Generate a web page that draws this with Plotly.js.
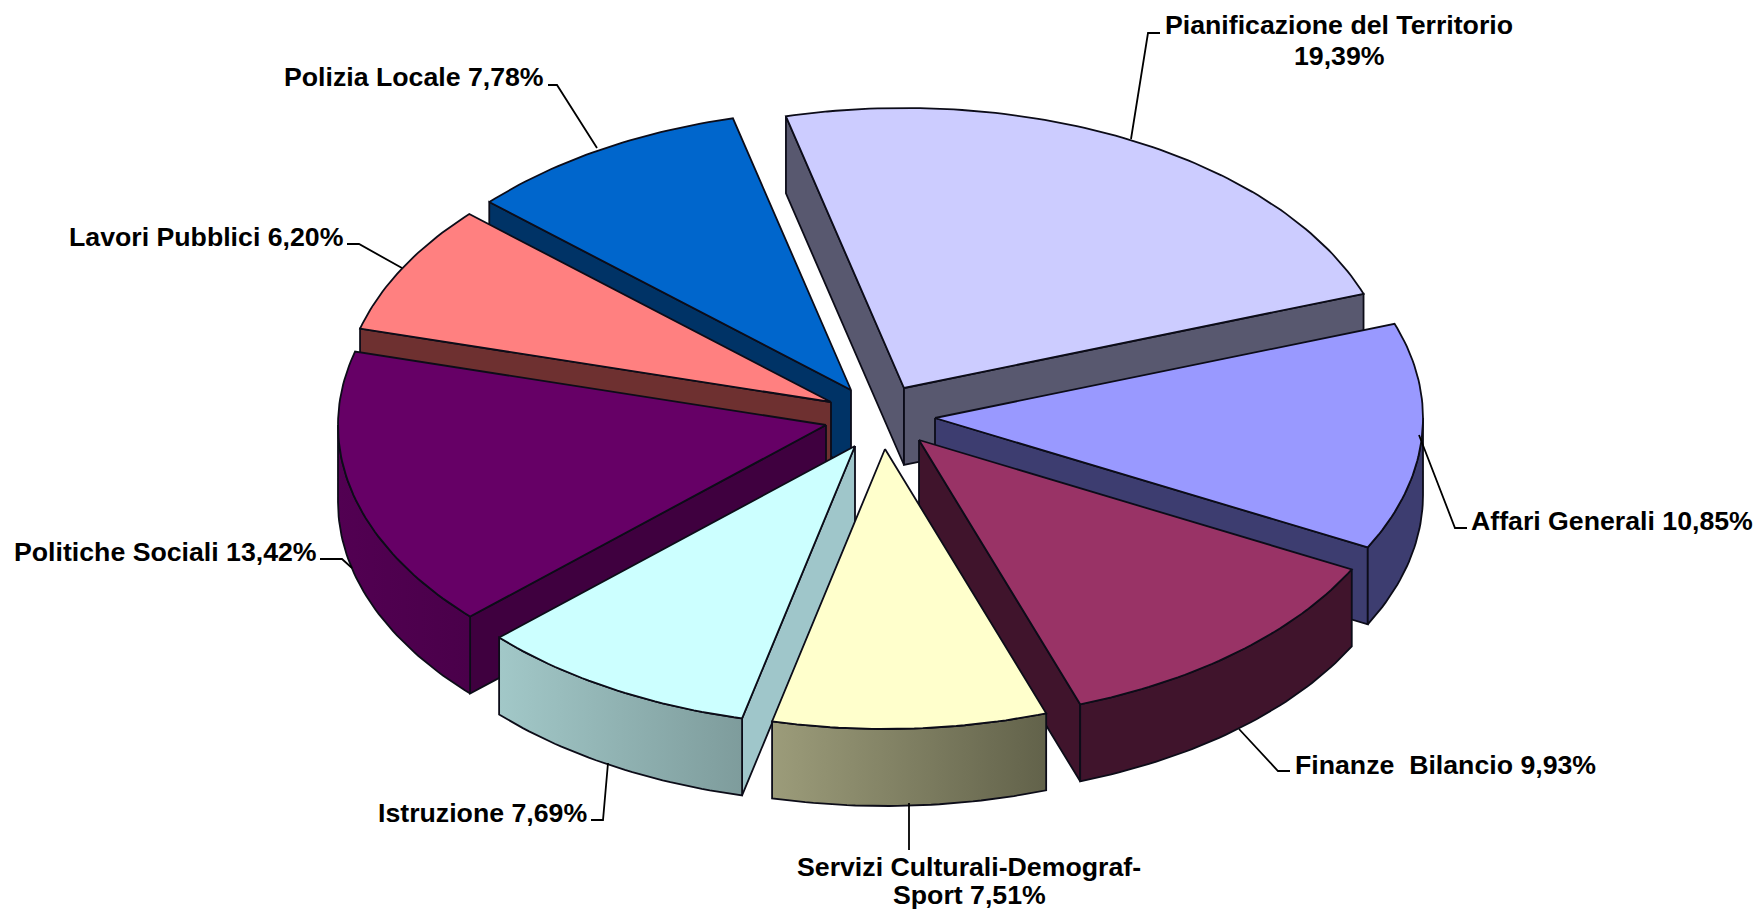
<!DOCTYPE html>
<html>
<head>
<meta charset="utf-8">
<script src="https://cdn.plot.ly/plotly-3.0.1.min.js"></script>
<style>html,body{margin:0;padding:0;background:#fff}#chart{width:1758px;height:911px}</style>
</head>
<body>
<div id="chart"></div>
<script>
// ---- data ----
const categories = ["Pianificazione del Territorio","Affari Generali","Finanze  Bilancio","Servizi Culturali-Demograf-Sport","Istruzione","Politiche Sociali","Lavori Pubblici","Polizia Locale"];
const values = [19.39,10.85,9.93,7.51,7.69,13.42,6.20,7.78];
const labelLines = [["Pianificazione del Territorio","19,39%"],["Affari Generali 10,85%"],["Finanze\u00A0\u00A0Bilancio 9,93%"],["Servizi Culturali-Demograf-","Sport 7,51%"],["Istruzione 7,69%"],["Politiche Sociali 13,42%"],["Lavori Pubblici 6,20%"],["Polizia Locale 7,78%"]];

// ---- styles ----
const topColors  = ["#CCCCFF","#9999FF","#993366","#FFFFCC","#CCFFFF","#660066","#FF8080","#0066CC"];
const faceColors = ["#58586F","#3D3D70","#40142C","#66664F","#9FC6CA","#3F003F","#6E3030","#003366"];
const wallLeft   = ["#58586F","#3D3D70","#40142C","#9C9C7A","#A2C8C8","#520052","#6E3030","#003366"];
const wallRight  = ["#58586F","#3D3D70","#40142C","#62624A","#7E9C9C","#4A004A","#6E3030","#003366"];
const paintOrder = [0,7,6,5,4,1,2,3];

// ---- pie geometry ----
const startAngle = 104, RX = 488, RY = 280, DEPTH = 77;
const apexX = [904,935,919,885,855,826,831,851];
const apexY = [388,418,440,449,446,425,402,390];

// ---- label placement ----
const labelX = [1339,1755,1598,969,589,319,346,546];
const labelY = [24.5,520.5,764.5,866.5,812.5,551.5,237,77];
const lineGap = [31.5,0,0,28.5,0,0,0,0];
const labelAnchor = ["center","right","right","center","right","right","right","right"];
const leaderX = [[1131,1148,1160],[1419,1455,1467],[1239,1278,1290],[909,909],[608,603,591],[352,342,320],[402,359,347],[597,557,548]];
const leaderY = [[139,33,33],[435,528,528],[729,771,771],[803,850],[763,820,820],[568,559,559],[268,244,244],[148,85,85]];

const total = values.reduce((a,b)=>a+b,0);
const rad = d => d*Math.PI/180;
const OUTLINE = {color:"#0c0c18",width:1.8};

// slice angle spans, clockwise from startAngle
const spans = [];
let cursor = startAngle;
values.forEach(v=>{const a=cursor, b=cursor-v/total*360; spans.push([a,b]); cursor=b;});

function arc(i,from,to,dy){
  const xs=[],ys=[], n=Math.max(2,Math.ceil(Math.abs(from-to)));
  for(let k=0;k<=n;k++){
    const t=rad(from+(to-from)*k/n);
    xs.push(apexX[i]+RX*Math.cos(t));
    ys.push(apexY[i]-RY*Math.sin(t)+dy);
  }
  return [xs,ys];
}
function poly(name,xs,ys,fill,grad){
  const tr={type:"scatter",mode:"lines",x:xs,y:ys,fill:"toself",line:OUTLINE,name,hoverinfo:"name",showlegend:false};
  if(grad) tr.fillgradient={type:"horizontal",colorscale:[[0,grad[0]],[1,grad[1]]]};
  else tr.fillcolor=fill;
  return tr;
}

const traces=[];
paintOrder.forEach(i=>{
  const [a,b]=spans[i], name=categories[i];
  // cut faces: seen only when they turn toward the viewer
  [[a,Math.cos(rad(a))<0],[b,Math.cos(rad(b))>0]].forEach(([t,visible])=>{
    if(!visible) return;
    const ex=apexX[i]+RX*Math.cos(rad(t)), ey=apexY[i]-RY*Math.sin(rad(t));
    traces.push(poly(name,[apexX[i],ex,ex,apexX[i],apexX[i]],[apexY[i],ey,ey+DEPTH,apexY[i]+DEPTH,apexY[i]],faceColors[i]));
  });
  // outer wall: only the front half of the rim (sin t <= 0)
  for(let w=0;w<2;w++){
    const lo=-180-360*w, hi=0-360*w;
    const from=Math.min(a,hi), to=Math.max(b,lo);
    if(from>to){
      const [tx,ty]=arc(i,from,to,0), [bx,by]=arc(i,to,from,DEPTH);
      const xs=tx.concat(bx,[tx[0]]), ys=ty.concat(by,[ty[0]]);
      traces.push(poly(name,xs,ys,null,[wallLeft[i],wallRight[i]]));
    }
  }
  // top face
  const [tx,ty]=arc(i,a,b,0);
  traces.push(poly(name,[apexX[i]].concat(tx,[apexX[i]]),[apexY[i]].concat(ty,[apexY[i]]),topColors[i]));
});

leaderX.forEach((lx,i)=>{
  traces.push({type:"scatter",mode:"lines",x:lx,y:leaderY[i],line:{color:"#000",width:1.8},hoverinfo:"skip",showlegend:false});
});

const annotations=[];
labelLines.forEach((lines,i)=>lines.forEach((text,k)=>annotations.push({
  x:labelX[i],y:labelY[i]+k*lineGap[i],xref:"x",yref:"y",text,showarrow:false,
  xanchor:labelAnchor[i],yanchor:"middle",align:"center",
  font:{family:"Liberation Sans, Arial, sans-serif",size:26.7,color:"#000",weight:700}
})));

Plotly.newPlot("chart",traces,{
  width:1758,height:911,margin:{l:0,r:0,t:0,b:0},
  paper_bgcolor:"#fff",plot_bgcolor:"#fff",showlegend:false,
  xaxis:{range:[0,1758],visible:false,fixedrange:true},
  yaxis:{range:[911,0],visible:false,fixedrange:true},
  annotations
},{displayModeBar:false});
</script>
</body>
</html>
